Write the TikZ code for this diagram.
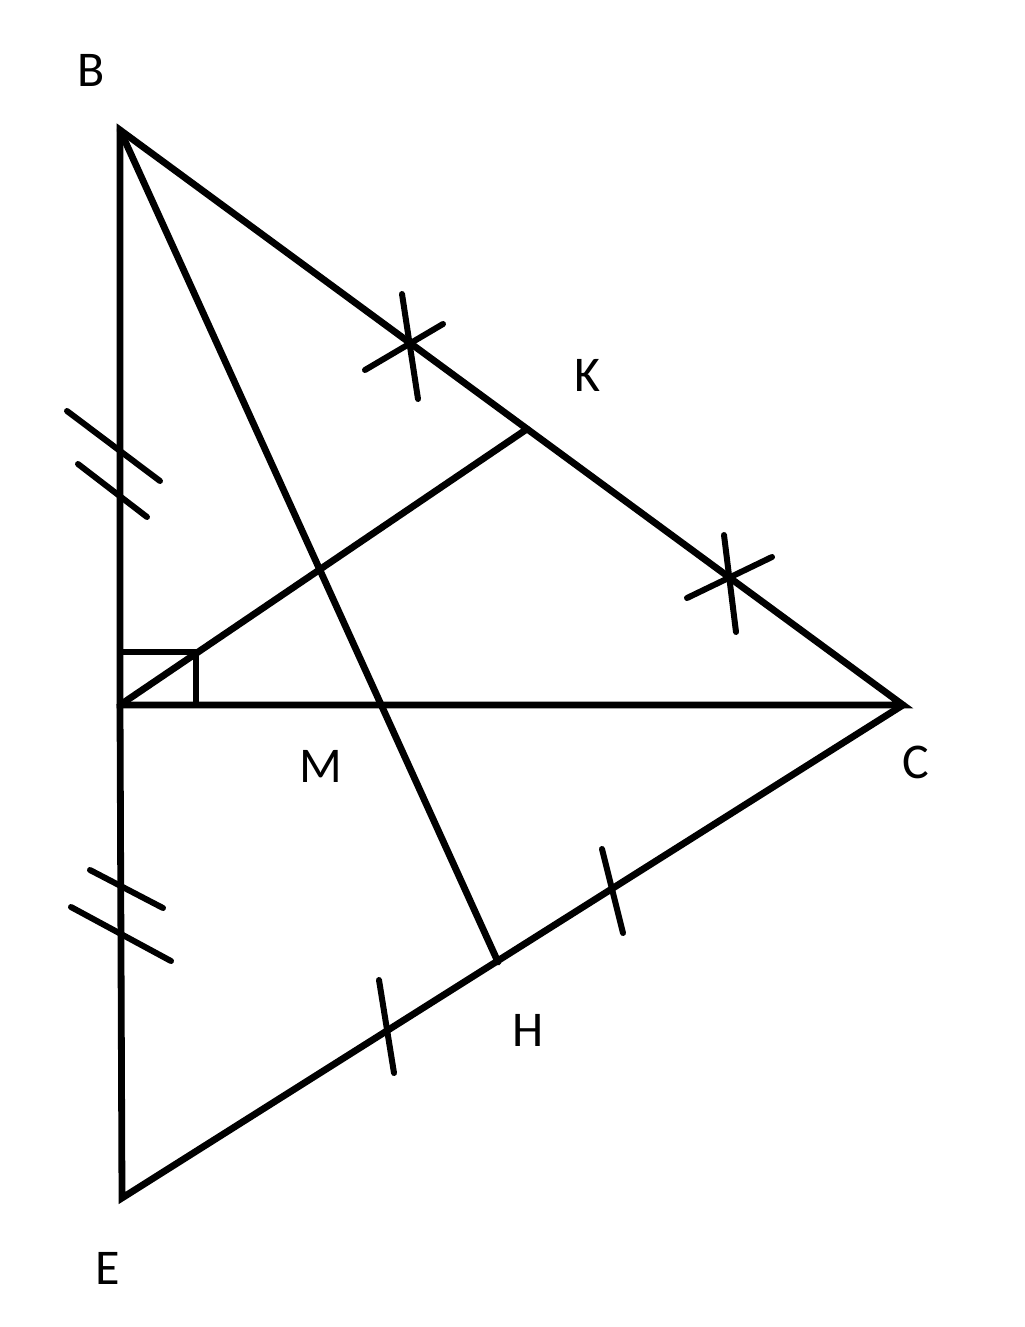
\documentclass[tikz,border=0pt]{standalone}
\usepackage{fontspec}
\setmainfont{Carlito}
\begin{document}
\begin{tikzpicture}[x=0.5pt,y=-0.5pt,
  seg/.style={line width=3.4pt,line cap=round,line join=miter},
  tick/.style={line width=3pt,line cap=round},
  lbl/.style={font=\fontsize{25}{30}\selectfont,inner sep=0pt}]
\useasboundingbox (0,0) rectangle (1024,1327);
\coordinate (B) at (120,130);
\coordinate (A) at (120,705);
\coordinate (C) at (903,705);
\coordinate (E) at (122,1198);
\coordinate (K) at (527,429);
\coordinate (H) at (498,962);
% main lines
\draw[seg] (A) -- (B) -- (C) -- cycle;
\draw[seg] (A) -- (E) -- (C);
\draw[seg] (A) -- (K);
\draw[seg] (B) -- (H);
% right angle
\draw[line width=3pt] (120,652) rectangle (196,705);
% ticks on BC (stars)
\draw[tick] (402,294) -- (418,399);
\draw[tick] (365,370) -- (443,324);
\draw[tick] (724,535) -- (736,632);
\draw[tick] (687,598) -- (772,557);
% double ticks on AB
\draw[tick] (67,411) -- (160,481);
\draw[tick] (78,464) -- (147,517);
% double ticks on AE
\draw[tick] (90,870) -- (163,908);
\draw[tick] (71,907) -- (171,961);
% single ticks on EC
\draw[tick] (379,980) -- (394,1073);
\draw[tick] (602,849) -- (623,933);
% labels
\node[lbl] (lB) at (91,70) {B};
\node[lbl] (lK) at (587,375) {K};
\node[lbl] (lM) at (321,766) {M};
\node[lbl] (lC) at (916,762) {C};
\node[lbl] (lH) at (528,1030) {H};
\node[lbl] (lE) at (108,1268) {E};
\end{tikzpicture}
\end{document}
